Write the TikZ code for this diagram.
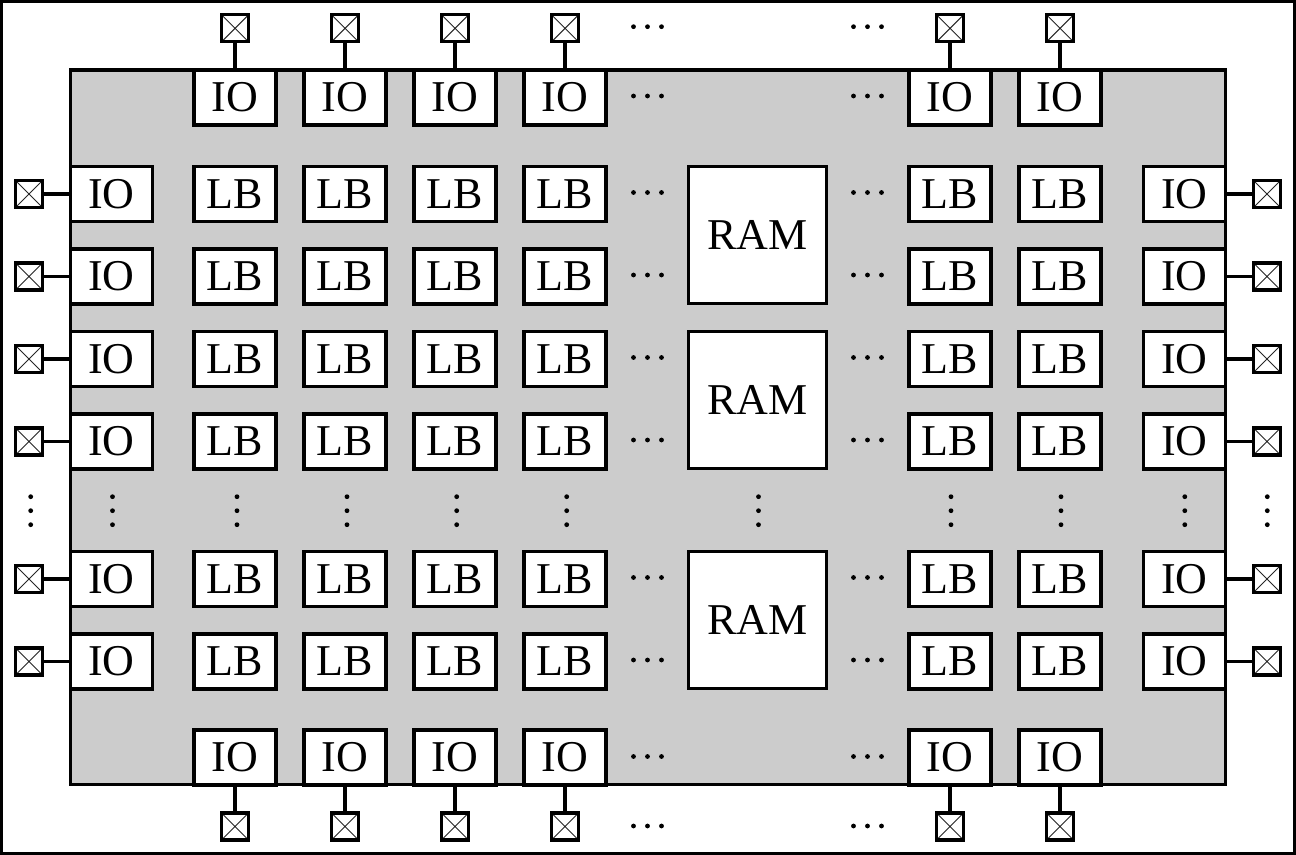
\documentclass[tikz,border=0pt]{standalone}
\usepackage{fontspec}
\setmainfont{Liberation Serif}
\definecolor{chipgray}{HTML}{CCCCCC}
\begin{document}
\begin{tikzpicture}[x=0.5pt,y=-0.5pt,
  box/.style={draw,fill=white,line width=1.6pt,minimum width=41pt,minimum height=27.5pt,
    inner sep=0pt,outer sep=0pt,anchor=north west,font=\fontsize{22}{26}\selectfont},
  rambox/.style={box,minimum width=69pt,minimum height=68.5pt},
  pin/.style={draw,fill=white,line width=1.6pt,minimum size=13.5pt,inner sep=0pt,outer sep=0pt,
    path picture={\draw[line width=0.5pt,black!85]
      (path picture bounding box.south west)--(path picture bounding box.north east)
      (path picture bounding box.north west)--(path picture bounding box.south east);}},
  wire/.style={line width=1.6pt},
  hdots/.pic={\foreach \d in {-14,0,14} \fill (\d,0) circle[radius=2.4];},
  vdots/.pic={\foreach \d in {-14,0,14} \fill (0,\d) circle[radius=2.4];},
]
\useasboundingbox (0,0) rectangle (1296,855);
\draw[line width=1.6pt] (1.6,1.6) rectangle (1294.4,853.4);
\draw[line width=1.6pt,fill=chipgray] (70.5,70) rectangle (1225.5,784.5);

% top and bottom IO with pins
\foreach \x [count=\i] in {194,304,414,524,909,1019}{
  \node[box] (t\i) at (\x,70) {IO};
  \node[box] (b\i) at (\x,730) {IO};
  \node[pin] (pt\i) at (\x+41,28.3) {};
  \node[pin] (pb\i) at (\x+41,826.5) {};
  \draw[wire] (pt\i) -- (t\i);
  \draw[wire] (pb\i) -- (b\i);
}

% rows
\foreach \y [count=\j] in {166.5,249,331.5,414,551.5,634}{
  \node[box] (l\j) at (70.5,\y) {IO};
  \node[box] (r\j) at (1143.5,\y) {IO};
  \node[pin] (pl\j) at (29,\y+27.5) {};
  \node[pin] (pr\j) at (1267,\y+27.5) {};
  \draw[wire] (pl\j) -- (l\j);
  \draw[wire] (pr\j) -- (r\j);
  \foreach \x [count=\i] in {194,304,414,524,909,1019}{
    \node[box] (lb\j-\i) at (\x,\y) {LB};
  }
  \pic at (647.5,\y+26) {hdots};
  \pic at (867.5,\y+26) {hdots};
}

% RAM blocks
\node[rambox] (ram1) at (688.5,166.5) {RAM};
\node[rambox] (ram2) at (688.5,331.5) {RAM};
\node[rambox] (ram3) at (688.5,551.5) {RAM};

% horizontal dots in top/bottom rows
\foreach \y in {26.7,96,756.5,826}{
  \pic at (647.5,\y) {hdots};
  \pic at (867.5,\y) {hdots};
}

% vertical dots
\foreach \x in {30.7,112.5,237,347,456.7,566.7,758.5,951,1061,1184.8,1267.3}{
  \pic at (\x,510.7) {vdots};
}
\end{tikzpicture}
\end{document}
